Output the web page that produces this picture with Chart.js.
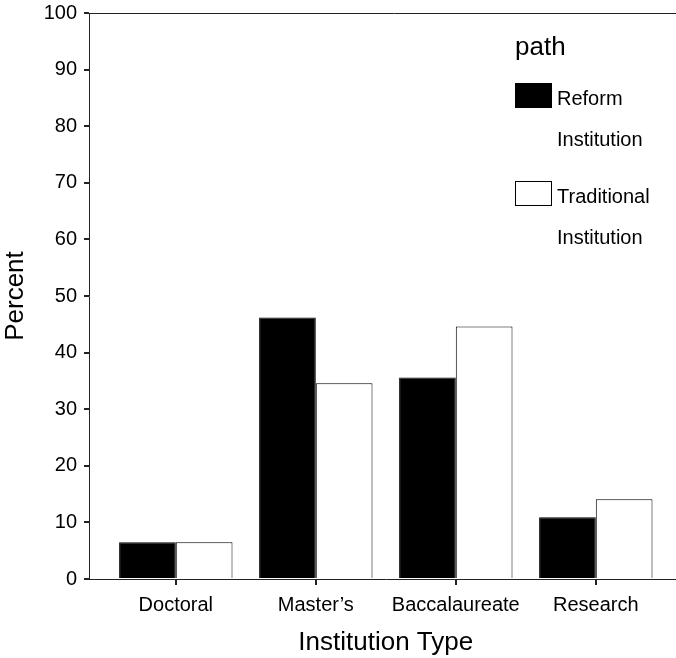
<!DOCTYPE html>
<html>
<head>
<meta charset="utf-8">
<script src="https://cdn.jsdelivr.net/npm/chart.js@4/dist/chart.umd.min.js"></script>
<style>
  html, body { margin: 0; padding: 0; background: #fff; overflow: hidden; }
  #wrap { width: 676px; height: 658px; overflow: hidden; }
</style>
</head>
<body>
<div id="wrap"><canvas id="chart" width="700" height="658"></canvas></div>
<script>
const categories = ['Doctoral', "Master\u2019s", 'Baccalaureate', 'Research'];
const reformValues = [6.5, 46.2, 35.6, 10.9];
const traditionalValues = [6.5, 34.6, 44.6, 14.1];
const seriesNames = ['Reform Institution', 'Traditional Institution'];
const legendTitle = 'path';
const yTicks = [0, 10, 20, 30, 40, 50, 60, 70, 80, 90, 100];

const FONT = '"Liberation Sans", Arial, Helvetica, sans-serif';
const AXIS = '#222';

// legend drawn inside the plot, top right
const legendBox = {
    id: 'legendBox',
    afterDraw(chart) {
        const ctx = chart.ctx;
        ctx.save();
        ctx.fillStyle = '#000';
        ctx.textBaseline = 'middle';
        ctx.textAlign = 'left';
        ctx.font = '26px ' + FONT;
        ctx.fillText(legendTitle, 515, 48);
        ctx.font = '20px ' + FONT;
        chart.data.datasets.forEach((ds, i) => {
            const top = 83 + i * 98;
            ctx.fillStyle = ds.backgroundColor;
            ctx.fillRect(515, top, 37, 25);
            ctx.strokeStyle = '#000';
            ctx.lineWidth = 1;
            ctx.strokeRect(515.5, top + 0.5, 36, 24);
            ctx.fillStyle = '#000';
            const words = ds.label.split(' ');
            ctx.fillText(words[0], 557, top + 16);
            ctx.fillText(words.slice(1).join(' '), 557, top + 57);
        });
        ctx.restore();
    }
};

// top frame line
const topLine = {
    id: 'topLine',
    afterDraw(chart) {
        const {ctx, chartArea} = chart;
        ctx.save();
        ctx.strokeStyle = AXIS;
        ctx.lineWidth = 1;
        ctx.beginPath();
        ctx.moveTo(chartArea.left, chartArea.top + 0.5);
        ctx.lineTo(chart.width, chartArea.top + 0.5);
        ctx.stroke();
        ctx.restore();
    }
};

new Chart(document.getElementById('chart'), {
    type: 'bar',
    data: {
        datasets: [{
            label: seriesNames[0],
            data: reformValues.map((v, i) => ({x: i, y: v})),
            backgroundColor: '#000',
            borderColor: '#000',
            borderWidth: 1
        }, {
            label: seriesNames[1],
            data: traditionalValues.map((v, i) => ({x: i, y: v})),
            backgroundColor: '#fff',
            borderColor: '#000',
            borderWidth: 1
        }]
    },
    options: {
        responsive: false,
        animation: false,
        layout: { padding: { left: 0, top: 13, right: 17.4, bottom: 0 } },
        datasets: { bar: { categoryPercentage: 0.81, barPercentage: 1 } },
        plugins: { legend: { display: false }, tooltip: { enabled: false } },
        scales: {
            x: {
                type: 'linear',
                min: -0.62,
                max: 3.62,
                offset: false,
                afterFit: s => { s.height = 79; s.paddingLeft = 0; s.paddingRight = 0; },
                afterBuildTicks: s => { s.ticks = s.ticks.filter(t => Number.isInteger(t.value)); },
                ticks: {
                    stepSize: 1,
                    padding: 8,
                    maxRotation: 0,
                    color: '#000',
                    font: { family: FONT, size: 20 },
                    callback: v => categories[v]
                },
                grid: { display: true, offset: false, drawOnChartArea: false, drawTicks: true, tickLength: 6, color: AXIS, lineWidth: 2 },
                border: { display: true, color: AXIS, width: 1 },
                title: {
                    display: true,
                    text: 'Institution Type',
                    color: '#000',
                    font: { family: FONT, size: 26 },
                    padding: { top: 0, bottom: 0 }
                }
            },
            y: {
                min: 0,
                max: 100,
                afterFit: s => { s.width = 89; s.paddingTop = 0; s.paddingBottom = 0; },
                afterBuildTicks: s => { s.ticks = yTicks.map(v => ({value: v})); },
                ticks: {
                    padding: 7,
                    color: '#000',
                    font: { family: FONT, size: 20 }
                },
                grid: { display: true, drawOnChartArea: false, drawTicks: true, tickLength: 5, color: AXIS, lineWidth: 2 },
                border: { display: true, color: AXIS, width: 1 },
                title: {
                    display: true,
                    text: 'Percent',
                    color: '#000',
                    font: { family: FONT, size: 26 },
                    padding: { top: 0, bottom: 0 }
                }
            }
        }
    },
    plugins: [legendBox, topLine]
});
</script>
</body>
</html>
